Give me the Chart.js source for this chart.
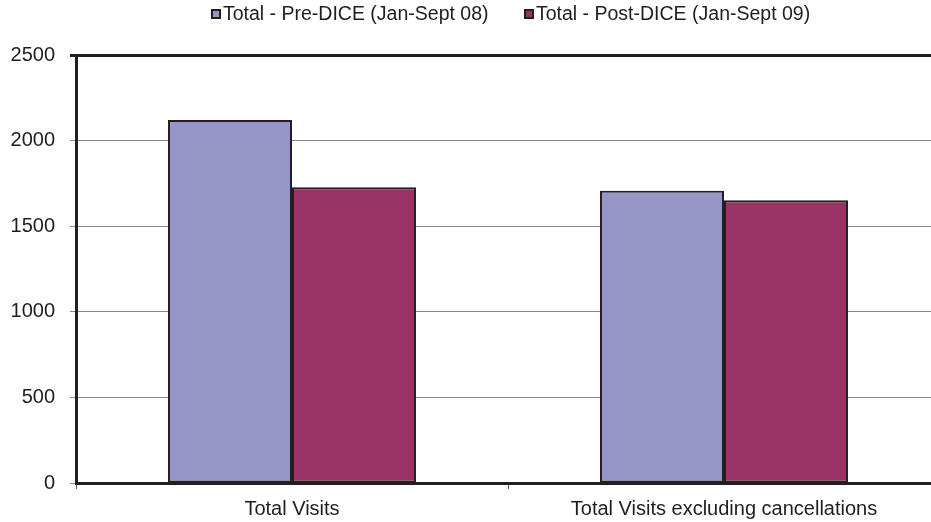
<!DOCTYPE html>
<html>
<head>
<meta charset="utf-8">
<script src="https://cdn.jsdelivr.net/npm/chart.js@4"></script>
<style>
  html, body { margin: 0; padding: 0; width: 931px; height: 522px; overflow: hidden; background: #fff; }
  #wrap { position: absolute; left: 0; top: 0; width: 950px; height: 522px; }
  .legend-item { position: absolute; top: 2px; display: flex; align-items: center;
    font: 19.5px "Liberation Sans", Arial, sans-serif; color: #1e1e1e; white-space: nowrap; }
  .legend-box { width: 10px; height: 10px; box-sizing: border-box; border: 2px solid #231f20; margin-right: 2px; }
</style>
</head>
<body>
<div id="wrap"><canvas id="chartVisits"></canvas></div>
<div id="legend"></div>
<script>
/* Visits before / after DICE, grouped bars */

const categories = ['Total Visits', 'Total Visits excluding cancellations'];
const seriesNames = ['Total - Pre-DICE (Jan-Sept 08)', 'Total - Post-DICE (Jan-Sept 09)'];
const preDice = [2120, 1707];
const postDice = [1727, 1652];
const yTicks = [0, 500, 1000, 1500, 2000, 2500];

const colors = ['#9696c8', '#993366'];
const edge = '#231f20';
const FONT = '"Liberation Sans", Arial, sans-serif';

function renderLegend() {
    const el = document.getElementById('legend');
    const lefts = [211, 524];
    el.innerHTML = seriesNames.map((name, i) =>
        `<div class="legend-item" style="left:${lefts[i]}px"><span class="legend-box" style="background:${colors[i]}"></span>${name}</div>`
    ).join('');
}

function renderChart() {
    const ctx = document.getElementById('chartVisits');
    new Chart(ctx, {
        type: 'bar',
        data: {
            labels: categories,
            datasets: [
                { label: seriesNames[0], data: preDice, backgroundColor: colors[0], borderColor: edge, borderWidth: 2, borderSkipped: false },
                { label: seriesNames[1], data: postDice, backgroundColor: colors[1], borderColor: edge, borderWidth: 2, borderSkipped: false }
            ]
        },
        options: {
            responsive: true, maintainAspectRatio: false, animation: false,
            layout: { padding: { top: 55, right: 10, bottom: 0, left: 0 } },
            datasets: { bar: { barPercentage: 1, categoryPercentage: 0.574 } },
            plugins: { legend: { display: false }, tooltip: { enabled: false } },
            scales: {
                x: {
                    offset: true,
                    afterFit: s => { s.height = 39; },
                    grid: { offset: true, drawOnChartArea: false, tickLength: 6, color: '#555' },
                    border: { color: edge, width: 3 },
                    ticks: { font: { family: FONT, size: 20 }, color: '#1e1e1e', padding: 8, maxRotation: 0 }
                },
                y: {
                    min: yTicks[0], max: yTicks[yTicks.length - 1],
                    afterFit: s => { s.width = 76; },
                    afterBuildTicks: s => { s.ticks = yTicks.map(v => ({ value: v })); },
                    grid: {
                        tickLength: 6,
                        color: c => c.tick && c.tick.value === 2500 ? edge : '#888',
                        lineWidth: c => c.tick && c.tick.value === 2500 ? 3 : 1
                    },
                    border: { color: edge, width: 3 },
                    ticks: { font: { family: FONT, size: 20 }, color: '#1e1e1e', padding: 15, callback: v => String(v) }
                }
            }
        }
    });
}

renderLegend();
renderChart();
</script>
</body>
</html>
